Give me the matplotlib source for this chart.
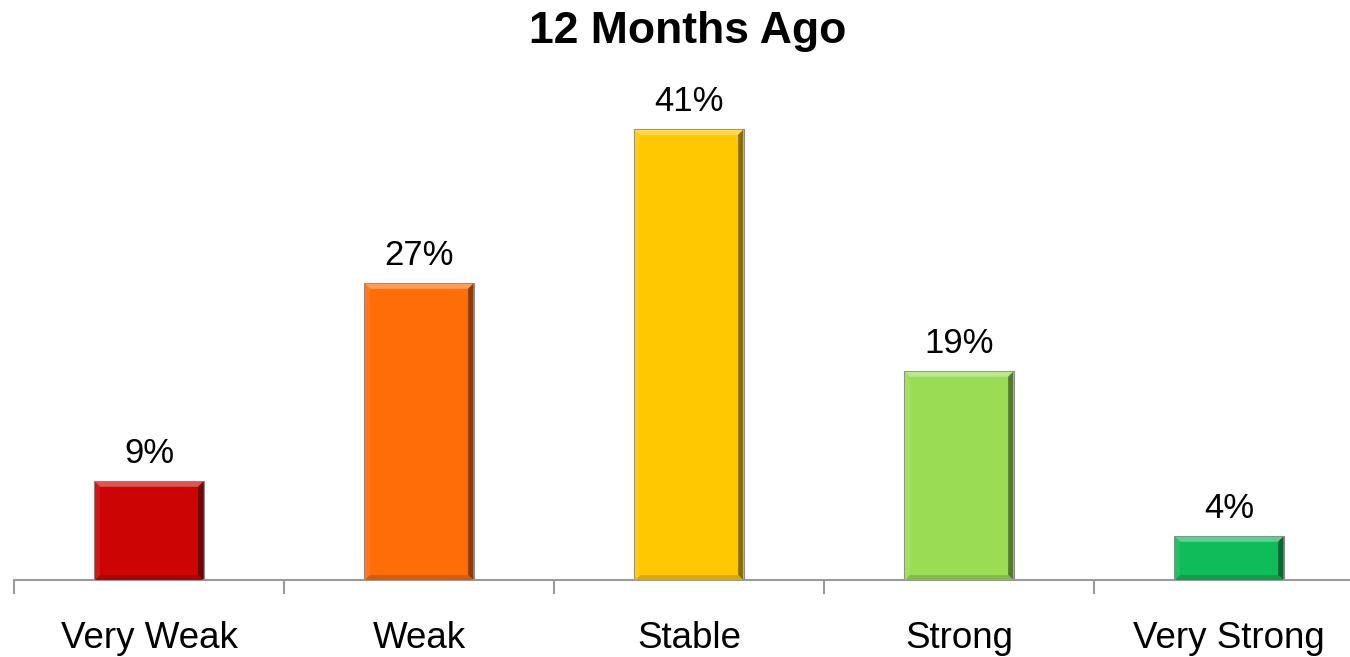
import matplotlib
matplotlib.use("Agg")
import matplotlib.pyplot as plt
from matplotlib.patches import Polygon
from matplotlib.transforms import IdentityTransform
from matplotlib.colors import to_rgb
import numpy as np

plt.rcParams['font.family'] = ['Liberation Sans', 'DejaVu Sans']

categories = ["Very Weak", "Weak", "Stable", "Strong", "Very Strong"]
values = [9, 27, 41, 19, 4]
colors = ["#CC0404", "#FF6D08", "#FFC800", "#99DD55", "#10BB5A"]
title = "12 Months Ago"

W, H, DPI = 1350, 657, 100
fig = plt.figure(figsize=(W / DPI, H / DPI), dpi=DPI)
ax = fig.add_axes([14 / W, 77 / H, 1336 / W, 495 / H])

x = np.arange(len(categories))
bar_w = 0.407
bars = ax.bar(x, values, width=bar_w, color=colors, edgecolor="#8a8a8a",
              linewidth=0.8, zorder=2)

for s in ["top", "right", "left"]:
    ax.spines[s].set_visible(False)
ax.spines["bottom"].set_color("#9a9a9a")
ax.spines["bottom"].set_linewidth(1.5)
ax.set_yticks([])

# boundary ticks between categories, labels at the centres
ax.set_xticks(np.arange(len(categories) + 1) - 0.5)
ax.set_xticklabels([])
ax.tick_params(axis="x", which="major", length=10, width=1.5, color="#9a9a9a",
               direction="out")
ax.set_xticks(x, minor=True)
ax.set_xticklabels(categories, minor=True, fontsize=26.5)
ax.tick_params(axis="x", which="minor", length=0, pad=29.5)

# limits last so the tick setup does not widen them
ax.set_xlim(-0.5, len(categories) - 0.5 - 14 / 270)
ax.set_ylim(0, 45)

# title centred over the category band
fig.suptitle(title, fontsize=32, fontweight="bold", x=688 / W, y=1 - 11 / H,
             va="top")

for xi, v in zip(x, values):
    ax.annotate(f"{v}%", (xi, v), xytext=(0, 13), textcoords="offset points",
                ha="center", va="baseline", fontsize=25)


def mix(c, other, t):
    c = np.array(to_rgb(c))
    return tuple(c * (1 - t) + np.array(other) * t)


# bevelled edges on each bar, drawn in pixel space
b = 5.0
for rect, c in zip(bars, colors):
    (x0, y0), (x1, y1) = ax.transData.transform(
        [(rect.get_x(), 0), (rect.get_x() + rect.get_width(), rect.get_height())])
    x0 += 0.8; x1 -= 0.8; y1 -= 0.8
    bb = min(b, (y1 - y0) / 2)
    faces = [
        ([(x0, y1), (x1, y1), (x1 - bb, y1 - bb), (x0 + bb, y1 - bb)], mix(c, (1, 1, 1), 0.32)),
        ([(x1, y1), (x1, y0), (x1 - bb, y0 + bb), (x1 - bb, y1 - bb)], mix(c, (0, 0, 0), 0.45)),
        ([(x0, y0), (x1, y0), (x1 - bb, y0 + bb), (x0 + bb, y0 + bb)], mix(c, (0, 0, 0), 0.15)),
        ([(x0, y1), (x0, y0), (x0 + bb, y0 + bb), (x0 + bb, y1 - bb)], mix(c, (1, 1, 1), 0.08)),
    ]
    for pts, fc in faces:
        fig.add_artist(Polygon(pts, closed=True, facecolor=fc, edgecolor="none",
                               transform=IdentityTransform(), zorder=3))

fig.savefig("out.png", dpi=DPI, facecolor="white")
